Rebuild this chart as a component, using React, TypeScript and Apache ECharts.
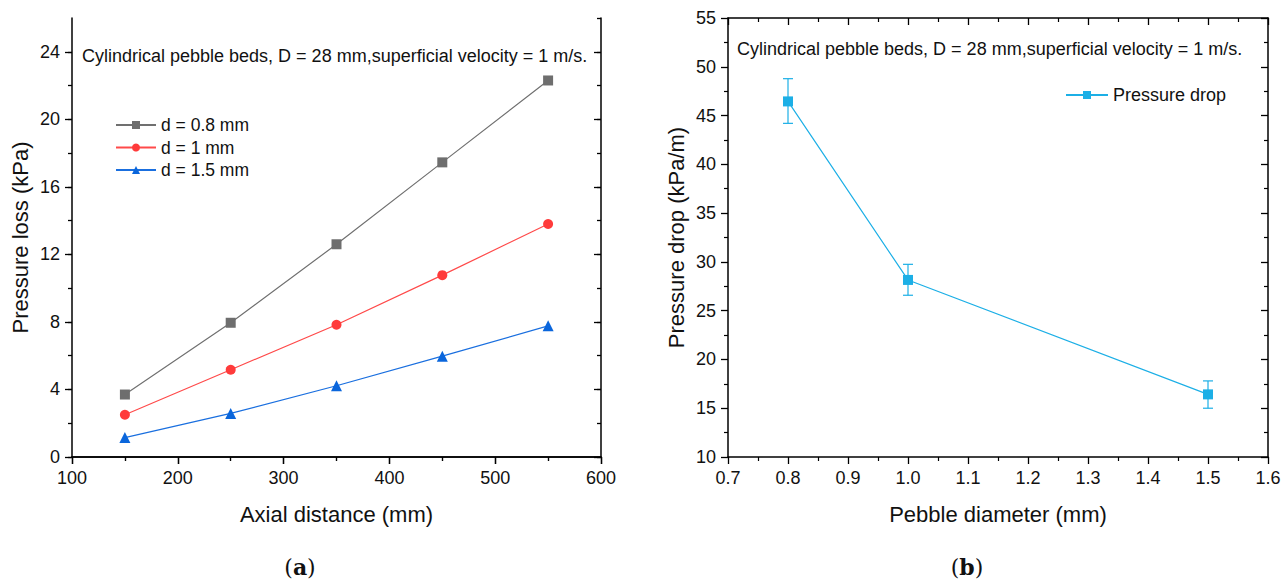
import React, { useEffect, useRef } from "react";
import * as echarts from "echarts";

const axialDistance = [150, 250, 350, 450, 550];
const loss08 = [3.7, 7.95, 12.6, 17.45, 22.3];
const loss10 = [2.5, 5.17, 7.83, 10.77, 13.8];
const loss15 = [1.15, 2.58, 4.22, 5.97, 7.77];
const lossMajorTicks = [0, 4, 8, 12, 16, 20, 24];

const pebbleDiameter = [0.8, 1.0, 1.5];
const pressureDrop = [46.45, 28.15, 16.42];
const errLow = [44.2, 26.58, 15.0];
const errHigh = [48.78, 29.75, 17.8];

const annotation = "Cylindrical pebble beds, D = 28 mm,superficial velocity = 1 m/s.";
const FONT = "Liberation Sans, Arial, sans-serif";
const SERIF = "DejaVu Serif, serif";
const CYAN = "#1CAFE6";

export default function App() {
  const ref = useRef<HTMLDivElement>(null);
  useEffect(() => {
    const chart = echarts.init(ref.current!, undefined, { renderer: "svg" });
    const lineAx = { show: true, lineStyle: { color: "#000", width: 1.5 } };
    const noLine = { show: false };
    const labelStyle = { color: "#111", fontSize: 18, fontFamily: FONT };
    const nameStyle = { color: "#111", fontSize: 22, fontFamily: FONT };
    const tk = (inside: boolean, length: number, extra: any = {}) => ({
      show: true, inside, length, lineStyle: { color: "#000", width: 1.3 }, ...extra,
    });
    const minor = { show: true, splitNumber: 2, length: 4, lineStyle: { color: "#000", width: 1.2 } };
    const grid0 = { left: 72, top: 18, width: 529, height: 439 };
    const grid1 = { left: 728, top: 18, width: 540, height: 439 };

    const xLeft = { min: 100, max: 600, interval: 100 };
    const yLeft = { min: 0, max: 26, interval: 2 };
    const xRight = { min: 0.7, max: 1.6, interval: 0.1 };
    const yRight = { min: 10, max: 55, interval: 5 };
    const off = { splitLine: { show: false } };

    chart.setOption({
      animation: false,
      textStyle: { fontFamily: FONT },
      grid: [grid0, grid1],
      xAxis: [
        {
          type: "value", gridIndex: 0, position: "bottom", ...xLeft, ...off,
          axisLine: lineAx, axisTick: tk(false, 7), minorTick: minor,
          axisLabel: { ...labelStyle, margin: 12 },
          name: "Axial distance (mm)", nameLocation: "middle", nameGap: 46, nameTextStyle: nameStyle,
        },
        {
          type: "value", gridIndex: 0, position: "top", ...xLeft, ...off,
          axisLine: lineAx, axisTick: tk(true, 7), minorTick: minor, axisLabel: { show: false },
        },
        {
          type: "value", gridIndex: 1, position: "bottom", ...xRight, ...off,
          axisLine: lineAx, axisTick: tk(false, 7), minorTick: minor,
          axisLabel: { ...labelStyle, margin: 12, formatter: (v: number) => v.toFixed(1) },
          name: "Pebble diameter (mm)", nameLocation: "middle", nameGap: 46, nameTextStyle: nameStyle,
        },
        {
          type: "value", gridIndex: 1, position: "top", ...xRight, ...off,
          axisLine: lineAx, axisTick: tk(true, 7), minorTick: minor, axisLabel: { show: false },
        },
      ],
      yAxis: [
        {
          type: "value", gridIndex: 0, position: "left", ...yLeft, ...off,
          axisLine: lineAx, axisTick: tk(false, 4),
          axisLabel: { ...labelStyle, margin: 12, showMaxLabel: false, formatter: (v: number) => (v % 4 === 0 ? String(v) : "") },
          name: "Pressure loss (kPa)", nameLocation: "middle", nameGap: 41, nameTextStyle: nameStyle,
        },
        {
          type: "value", gridIndex: 0, position: "right", ...yLeft, ...off,
          axisLine: lineAx, axisTick: tk(true, 4), axisLabel: { show: false },
        },
        {
          type: "value", gridIndex: 1, position: "left", ...yRight, ...off,
          axisLine: lineAx, axisTick: tk(false, 7), minorTick: minor,
          axisLabel: { ...labelStyle, margin: 12 },
          name: "Pressure drop (kPa/m)", nameLocation: "middle", nameGap: 41, nameTextStyle: nameStyle,
        },
        {
          type: "value", gridIndex: 1, position: "right", ...yRight, ...off,
          axisLine: lineAx, axisTick: tk(true, 7), minorTick: minor, axisLabel: { show: false },
        },
        {
          type: "value", gridIndex: 0, position: "left", ...yLeft, ...off,
          axisLine: noLine, axisTick: tk(false, 7, { customValues: lossMajorTicks }), axisLabel: { show: false },
        },
        {
          type: "value", gridIndex: 0, position: "right", ...yLeft, ...off,
          axisLine: noLine, axisTick: tk(true, 7, { customValues: lossMajorTicks }), axisLabel: { show: false },
        },
      ],
      legend: [
        {
          data: ["d = 0.8 mm", "d = 1 mm", "d = 1.5 mm"],
          orient: "vertical", left: 110, top: 111, itemWidth: 40, itemHeight: 10, itemGap: 4.5,
          textStyle: { color: "#111", fontSize: 17.5, fontFamily: FONT },
        },
        {
          data: ["Pressure drop"],
          orient: "vertical", left: 1060, top: 81, itemWidth: 42, itemHeight: 10,
          textStyle: { color: "#111", fontSize: 18, fontFamily: FONT },
        },
      ],
      series: [
        {
          name: "d = 0.8 mm", type: "line", xAxisIndex: 0, yAxisIndex: 0,
          data: axialDistance.map((x, i) => [x, loss08[i]]),
          symbol: "rect", symbolSize: 10,
          lineStyle: { color: "#707070", width: 1.2 }, itemStyle: { color: "#6E6E6E" },
        },
        {
          name: "d = 1 mm", type: "line", xAxisIndex: 0, yAxisIndex: 0,
          data: axialDistance.map((x, i) => [x, loss10[i]]),
          symbol: "circle", symbolSize: 10,
          lineStyle: { color: "#FF4A4A", width: 1.2 }, itemStyle: { color: "#FF3B3B" },
        },
        {
          name: "d = 1.5 mm", type: "line", xAxisIndex: 0, yAxisIndex: 0,
          data: axialDistance.map((x, i) => [x, loss15[i]]),
          symbol: "triangle", symbolSize: 11,
          lineStyle: { color: "#1A6FDF", width: 1.2 }, itemStyle: { color: "#0A66DC" },
        },
        {
          name: "Pressure drop", type: "line", xAxisIndex: 2, yAxisIndex: 2,
          data: pebbleDiameter.map((x, i) => [x, pressureDrop[i]]),
          symbol: "rect", symbolSize: 10, z: 3,
          lineStyle: { color: CYAN, width: 1.2 }, itemStyle: { color: CYAN },
        },
        {
          name: "err", type: "custom", xAxisIndex: 2, yAxisIndex: 2, z: 2,
          data: pebbleDiameter.map((x, i) => [x, errLow[i], errHigh[i]]),
          renderItem: (_p: any, api: any) => {
            const x = api.value(0);
            const lo = api.coord([x, api.value(1)]);
            const hi = api.coord([x, api.value(2)]);
            const w = 5;
            const st = { stroke: CYAN, lineWidth: 1.2 };
            return {
              type: "group",
              children: [
                { type: "line", shape: { x1: lo[0], y1: lo[1], x2: hi[0], y2: hi[1] }, style: st },
                { type: "line", shape: { x1: lo[0] - w, y1: lo[1], x2: lo[0] + w, y2: lo[1] }, style: st },
                { type: "line", shape: { x1: hi[0] - w, y1: hi[1], x2: hi[0] + w, y2: hi[1] }, style: st },
              ],
            };
          },
        },
      ],
      graphic: [
        { type: "text", left: 82, top: 47, style: { text: annotation, fontSize: 18, fontFamily: FONT, fill: "#111" } },
        { type: "text", left: 737, top: 40, style: { text: annotation, fontSize: 18, fontFamily: FONT, fill: "#111" } },
        {
          type: "text", x: 300, y: 567,
          style: {
            text: "({b|a})", fontSize: 22, fontFamily: SERIF, fill: "#111", align: "center", verticalAlign: "middle",
            rich: { b: { fontWeight: "bold", fontSize: 22, fontFamily: SERIF } },
          },
        },
        {
          type: "text", x: 967, y: 567,
          style: {
            text: "({b|b})", fontSize: 22, fontFamily: SERIF, fill: "#111", align: "center", verticalAlign: "middle",
            rich: { b: { fontWeight: "bold", fontSize: 22, fontFamily: SERIF } },
          },
        },
      ],
    });
    return () => chart.dispose();
  }, []);
  return <div ref={ref} style={{ position: "fixed", left: 0, top: 0, width: 1288, height: 580, background: "#fff" }} />;
}
